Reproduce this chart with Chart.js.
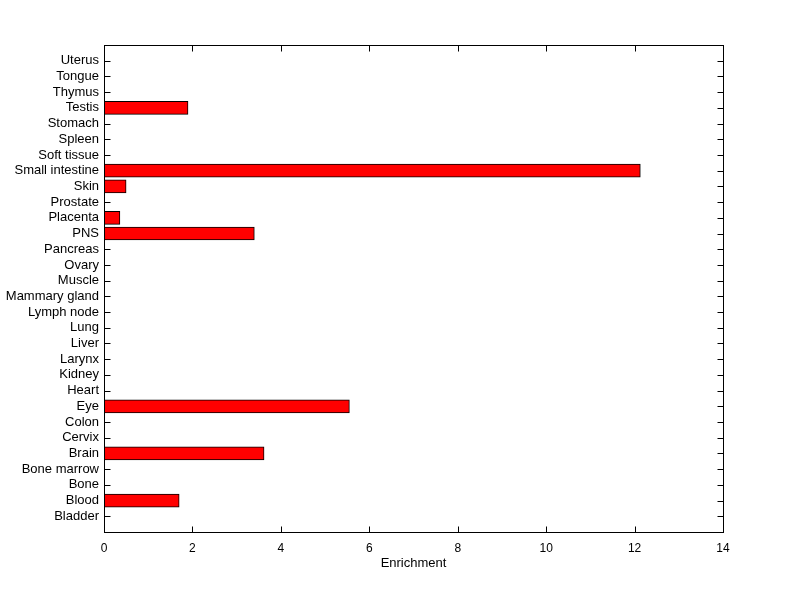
<!DOCTYPE html>
<html>
<head>
<meta charset="utf-8">
<script src="https://cdn.jsdelivr.net/npm/chart.js@4/dist/chart.umd.min.js"></script>
<style>
  html, body { margin: 0; padding: 0; background: #fff; }
  #wrap { width: 800px; height: 599px; }
</style>
</head>
<body>
<div id="wrap"><canvas id="grafico"></canvas></div>
<script>
// tecidos, de baixo para cima
const tecidos = ['Bladder', 'Blood', 'Bone', 'Bone marrow', 'Brain', 'Cervix', 'Colon', 'Eye',
    'Heart', 'Kidney', 'Larynx', 'Liver', 'Lung', 'Lymph node', 'Mammary gland', 'Muscle',
    'Ovary', 'Pancreas', 'PNS', 'Placenta', 'Prostate', 'Skin', 'Small intestine',
    'Soft tissue', 'Spleen', 'Stomach', 'Testis', 'Thymus', 'Tongue', 'Uterus'];
const enriquecimento = [0, 1.70, 0, 0, 3.62, 0, 0, 5.55,
    0, 0, 0, 0, 0, 0, 0, 0,
    0, 0, 3.40, 0.36, 0, 0.50, 12.13,
    0, 0, 0, 1.90, 0, 0, 0];
const ticksX = [0, 2, 4, 6, 8, 10, 12, 14];

const fonteNum = { family: 'Liberation Sans, Arial, sans-serif', size: 12 };
const fonteTxt = { family: 'Liberation Sans, Arial, sans-serif', size: 13 };

// ticks para dentro (atras das barras) e moldura por cima, estilo matlab
const moldura = {
    id: 'moldura',
    beforeDatasetsDraw(chart) {
        const { ctx, chartArea: a, scales } = chart;
        const L = Math.round(a.left) + 0.5, R = Math.round(a.right) + 0.5;
        const T = Math.round(a.top) + 0.5, B = Math.round(a.bottom) + 0.5;
        ctx.save();
        ctx.strokeStyle = '#000';
        ctx.lineWidth = 1;
        ctx.beginPath();
        ticksX.forEach(v => {
            const x = Math.round(scales.x.getPixelForValue(v)) + 0.5;
            ctx.moveTo(x, B); ctx.lineTo(x, B - 6);
            ctx.moveTo(x, T); ctx.lineTo(x, T + 6);
        });
        tecidos.forEach((t, i) => {
            const y = Math.round(scales.y.getPixelForValue(i + 1)) + 0.5;
            ctx.moveTo(L, y); ctx.lineTo(L + 6, y);
            ctx.moveTo(R, y); ctx.lineTo(R - 6, y);
        });
        ctx.stroke();
        ctx.restore();
    },
    afterDraw(chart) {
        const { ctx, chartArea: a } = chart;
        const L = Math.round(a.left) + 0.5, R = Math.round(a.right) + 0.5;
        const T = Math.round(a.top) + 0.5, B = Math.round(a.bottom) + 0.5;
        ctx.save();
        ctx.strokeStyle = '#000';
        ctx.lineWidth = 1;
        ctx.strokeRect(L, T, R - L, B - T);
        ctx.restore();
    }
};

new Chart(document.getElementById('grafico'), {
    type: 'bar',
    data: {
        datasets: [{
            data: tecidos.map((t, i) => ({ x: enriquecimento[i], y: i + 1 })),
            backgroundColor: '#ff0000',
            borderColor: '#000000',
            borderWidth: ctx => (ctx.raw && ctx.raw.x > 0 ? 1 : 0),
            borderSkipped: false,
            barThickness: 13
        }]
    },
    options: {
        indexAxis: 'y',
        responsive: true,
        maintainAspectRatio: false,
        animation: false,
        layout: { padding: { top: 45, right: 77, left: 0, bottom: 28 } },
        scales: {
            x: {
                type: 'linear',
                min: 0,
                max: 14,
                afterBuildTicks: s => { s.ticks = ticksX.map(v => ({ value: v })); },
                ticks: { color: '#000', font: fonteNum, padding: 9 },
                grid: { display: false, drawTicks: false },
                border: { display: false },
                title: { display: true, text: 'Enrichment', color: '#000', font: fonteTxt, padding: { top: 0, bottom: 0 } },
                afterFit: s => { s.height = 599 - 532 - 28; }
            },
            y: {
                type: 'linear',
                min: 0,
                max: 31,
                offset: false,
                afterBuildTicks: s => { s.ticks = tecidos.map((t, i) => ({ value: i + 1 })); },
                ticks: {
                    color: '#000',
                    font: fonteTxt,
                    padding: 5,
                    autoSkip: false,
                    callback: v => tecidos[v - 1]
                },
                grid: { display: false, drawTicks: false, offset: false },
                border: { display: false },
                afterFit: s => { s.width = 104; }
            }
        },
        plugins: {
            legend: { display: false },
            tooltip: { enabled: false }
        }
    },
    plugins: [moldura]
});
</script>
</body>
</html>
